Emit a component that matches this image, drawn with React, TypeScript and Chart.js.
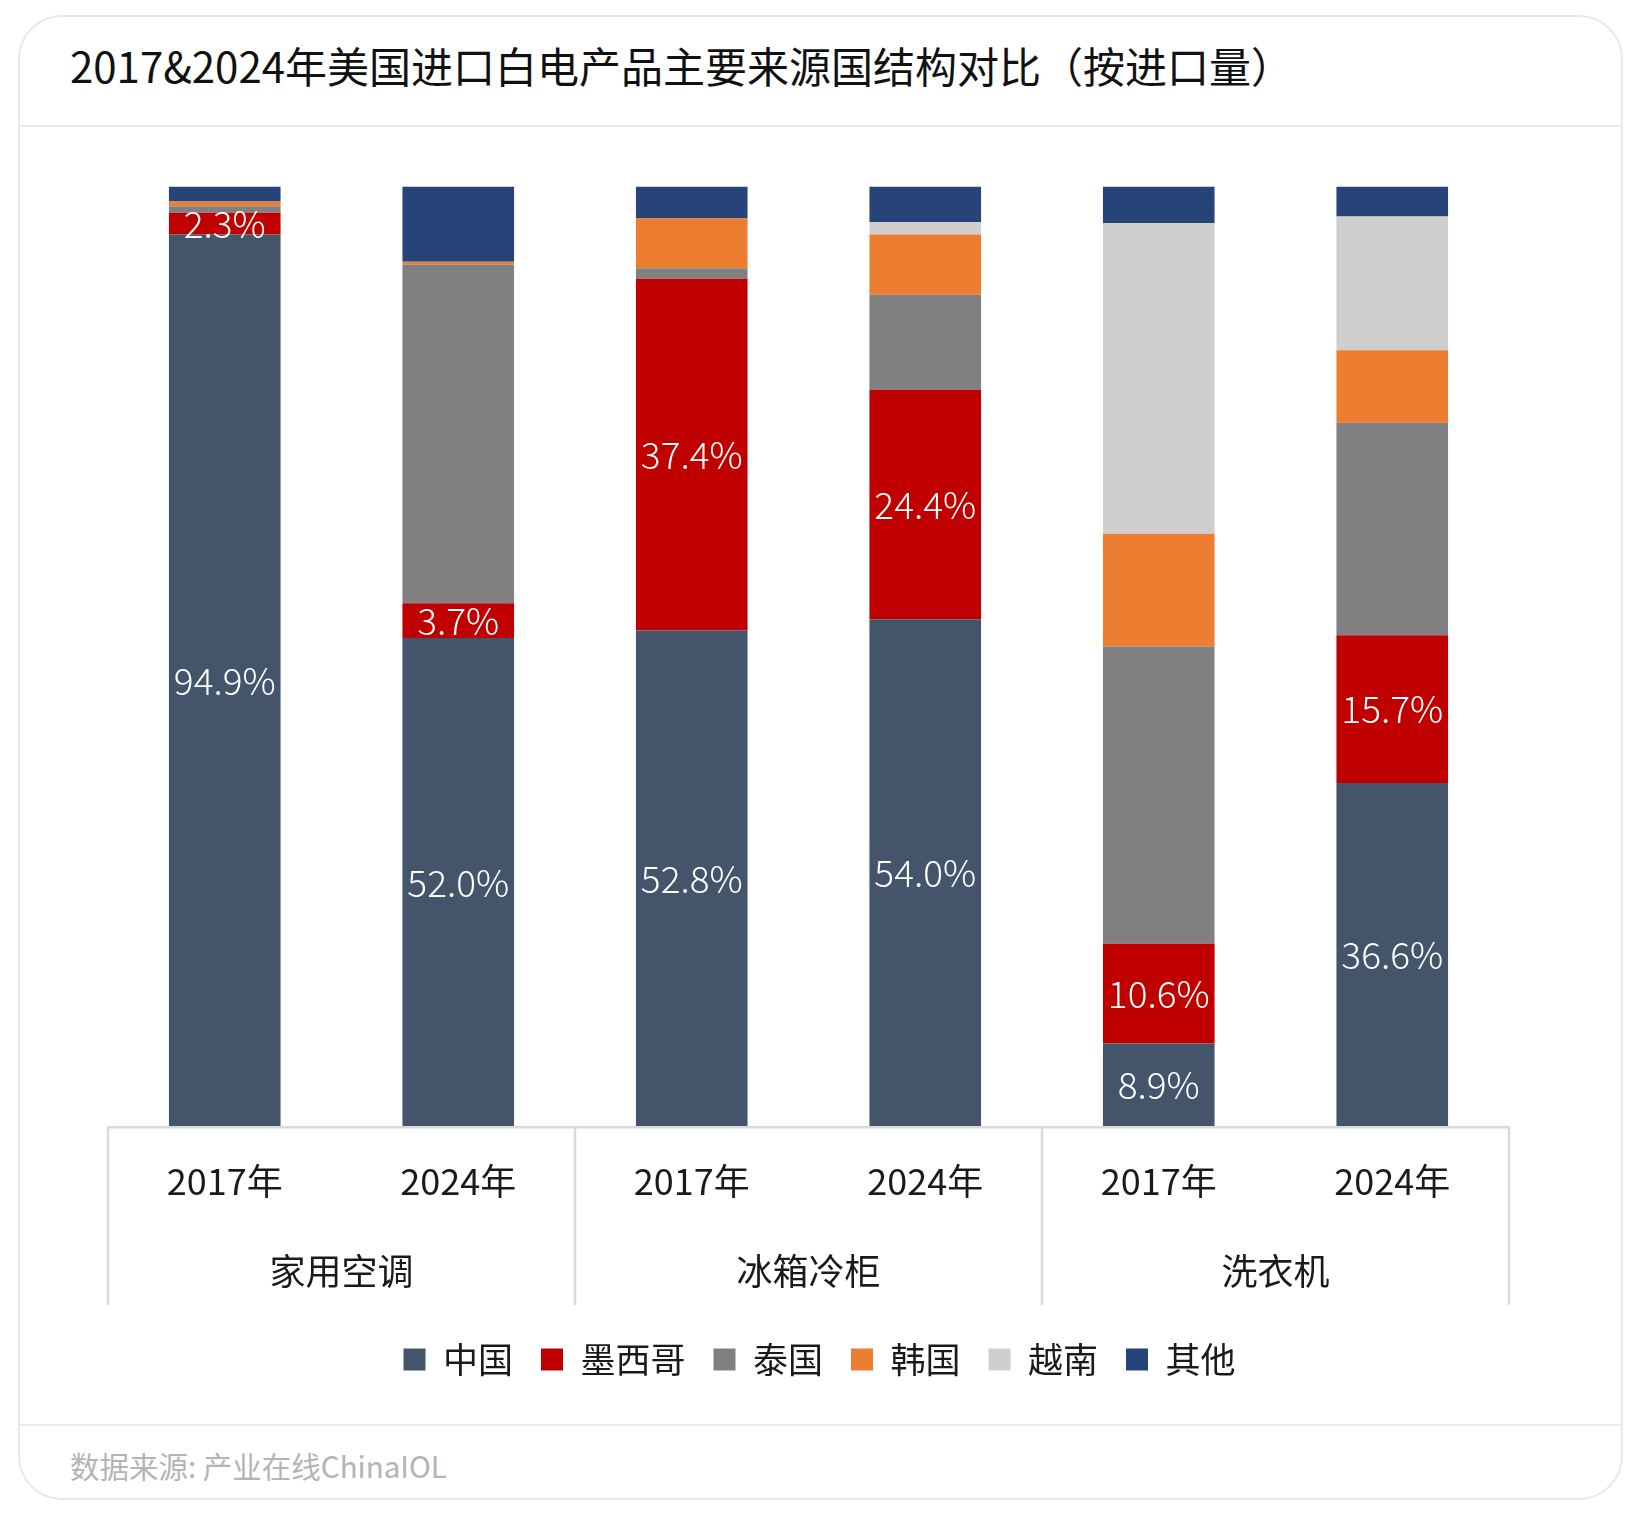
import React, { useEffect, useRef } from "react";
import { Chart, registerables } from "chart.js";

Chart.register(...registerables);

const FONT = '"Noto Sans CJK SC", "Noto Sans", sans-serif';

const titleText = "2017&2024年美国进口白电产品主要来源国结构对比（按进口量）";
const sourceText = "数据来源: 产业在线ChinaIOL";

const yearLabels = ["2017年", "2024年", "2017年", "2024年", "2017年", "2024年"];
const groupLabels = ["家用空调", "冰箱冷柜", "洗衣机"];

const seriesNames = ["中国", "墨西哥", "泰国", "韩国", "越南", "其他"];
const seriesColors = ["#44546A", "#C00000", "#808080", "#ED7D31", "#D0CECE", "#264478"];

const china = [94.9, 52.0, 52.8, 54.0, 8.9, 36.6];
const mexico = [2.3, 3.7, 37.4, 24.4, 10.6, 15.7];
const thailand = [0.7, 36.0, 1.1, 10.1, 31.6, 22.6];
const korea = [0.5, 0.3, 5.3, 6.4, 12.0, 7.7];
const vietnam = [0, 0, 0, 1.3, 33.0, 14.2];
const others = [1.6, 8.0, 3.4, 3.8, 3.9, 3.2];

const seriesValues = [china, mexico, thailand, korea, vietnam, others];
const labelledSeries = [0, 1];

const groupAxisPlugin = {
  id: "groupAxis",
  afterDraw(chart: any) {
    const { ctx, chartArea, scales } = chart;
    const x = scales.x;
    const step = x.getPixelForValue(1) - x.getPixelForValue(0);
    const yTop = chartArea.bottom;
    const yBot = chartArea.bottom + 177.5;
    ctx.save();
    ctx.strokeStyle = "#D9D9D9";
    ctx.lineWidth = 2.5;
    ctx.beginPath();
    ctx.moveTo(chartArea.left - 1, yTop);
    ctx.lineTo(chartArea.right + 1, yTop);
    ctx.stroke();
    const per = yearLabels.length / groupLabels.length;
    for (let g = 0; g <= groupLabels.length; g++) {
      const px = x.getPixelForValue(0) - step / 2 + g * per * step;
      ctx.beginPath();
      ctx.moveTo(px, yTop);
      ctx.lineTo(px, yBot);
      ctx.stroke();
    }
    ctx.font = `36px ${FONT}`;
    ctx.fillStyle = "#1a1a1a";
    ctx.textAlign = "center";
    ctx.textBaseline = "middle";
    groupLabels.forEach((g, i) => {
      const cx = (x.getPixelForValue(i * per) + x.getPixelForValue(i * per + per - 1)) / 2;
      ctx.fillText(g, cx, chartArea.bottom + 144.5);
    });
    ctx.restore();
  },
};

const segmentLabelPlugin = {
  id: "segmentLabels",
  afterDatasetsDraw(chart: any) {
    const { ctx } = chart;
    ctx.save();
    ctx.font = `300 37px ${FONT}`;
    ctx.fillStyle = "#FFFFFF";
    ctx.textAlign = "center";
    ctx.textBaseline = "middle";
    labelledSeries.forEach((di) => {
      const meta = chart.getDatasetMeta(di);
      meta.data.forEach((el: any, i: number) => {
        const v = chart.data.datasets[di].data[i] as number;
        const { x, y, base } = el.getProps(["x", "y", "base"], true);
        ctx.fillText(`${v.toFixed(1)}%`, x, (y + base) / 2);
      });
    });
    ctx.restore();
  },
};

const legendShiftPlugin = {
  id: "legendShift",
  afterLayout(chart: any) {
    const lg = chart.legend;
    if (lg) {
      lg.left += 11;
      lg.right += 11;
      lg.top -= 2;
      lg.bottom -= 2;
    }
  },
};

function StackedChart() {
  const ref = useRef<HTMLCanvasElement | null>(null);
  useEffect(() => {
    if (!ref.current) return;
    const chart = new Chart(ref.current, {
      type: "bar",
      data: {
        labels: yearLabels,
        datasets: seriesNames.map((name, i) => ({
          label: name,
          data: seriesValues[i],
          backgroundColor: seriesColors[i],
          borderWidth: 0,
          barPercentage: 0.478,
          categoryPercentage: 1,
        })),
      },
      options: {
        responsive: false,
        animation: false,
        layout: { padding: { top: 59.5, left: 88, right: 112, bottom: 35 } },
        plugins: {
          tooltip: { enabled: false },
          legend: {
            position: "bottom",
            labels: {
              boxWidth: 22,
              boxHeight: 22,
              padding: 28,
              color: "#1a1a1a",
              font: { size: 35, family: FONT },
            },
          },
        },
        scales: {
          x: {
            stacked: true,
            grid: { display: false },
            border: { display: false },
            ticks: {
              color: "#1a1a1a",
              font: { size: 36, family: FONT },
              padding: 24.5,
              maxRotation: 0,
              autoSkip: false,
            },
            afterFit(scale: any) {
              scale.height = 188.7;
            },
          },
          y: {
            stacked: true,
            display: false,
            min: 0,
            max: 100,
          },
        },
      },
      plugins: [segmentLabelPlugin, groupAxisPlugin, legendShiftPlugin],
    });
    return () => chart.destroy();
  }, []);
  return <canvas ref={ref} width={1601} height={1297} style={{ display: "block", width: 1601, height: 1297 }} />;
}

export default function App() {
  return (
    <div
      style={{
        position: "absolute",
        left: 18,
        top: 15,
        width: 1605,
        height: 1485,
        boxSizing: "border-box",
        border: "2px solid #E8E8E8",
        borderRadius: 44,
        background: "#fff",
        overflow: "hidden",
        fontFamily: FONT,
      }}
    >
      <div
        style={{
          height: 110,
          boxSizing: "border-box",
          borderBottom: "2px solid #EBEBEB",
          display: "flex",
          alignItems: "center",
          paddingLeft: 50,
          paddingBottom: 13,
          fontSize: 42,
          color: "#111",
          whiteSpace: "nowrap",
        }}
      >
        {titleText}
      </div>
      <StackedChart />
      <div
        style={{
          height: 74,
          boxSizing: "border-box",
          borderTop: "2px solid #EBEBEB",
          display: "flex",
          alignItems: "center",
          paddingLeft: 50,
          paddingTop: 6,
          fontSize: 29.5,
          color: "#B4B4B4",
          whiteSpace: "nowrap",
        }}
      >
        {sourceText}
      </div>
    </div>
  );
}
